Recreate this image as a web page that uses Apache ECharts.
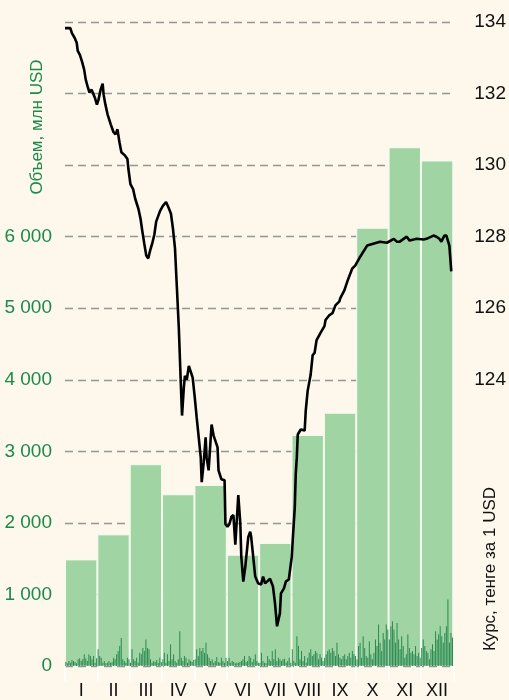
<!DOCTYPE html>
<html>
<head>
<meta charset="utf-8">
<script src="https://cdn.jsdelivr.net/npm/echarts@6/dist/echarts.min.js"></script>
<style>
    html, body { margin: 0; padding: 0; background: #fdf8eb; }
    #chart { width: 509px; height: 700px; }
</style>
</head>
<body>
<div id="chart"></div>
<script>
// месяцы
const months = ['I', 'II', 'III', 'IV', 'V', 'VI', 'VII', 'VIII', 'IX', 'X', 'XI', 'XII'];

// объем торгов за месяц, млн USD
const monthVolume = [1490, 1840, 2820, 2400, 2530, 1555, 1720, 3230, 3540, 6125, 7250, 7065];

// дневной объем торгов, млн USD (по 21 торговому дню в месяце)
const dailyVolume = [
    55, 40, 70, 45, 85, 70, 55, 40, 95, 110, 70, 95, 165, 110, 70, 165, 140, 95, 140, 45, 110,
    235, 140, 115, 45, 70, 40, 45, 70, 45, 55, 115, 95, 165, 210, 280, 390, 95, 70, 45, 115, 95,
    45, 235, 95, 70, 115, 45, 185, 165, 250, 210, 370, 250, 235, 95, 45, 70, 55, 85, 45, 115, 55,
    95, 185, 45, 165, 70, 305, 95, 165, 70, 45, 95, 485, 115, 70, 140, 115, 45, 95, 70, 55, 85,
    95, 235, 140, 250, 210, 250, 185, 325, 165, 115, 70, 95, 45, 70, 125, 55, 45, 115, 70, 45, 115,
    70, 115, 45, 70, 55, 40, 45, 45, 55, 70, 95, 140, 55, 70, 140, 115, 55, 95, 165, 70, 45,
    45, 185, 70, 45, 40, 140, 95, 70, 210, 95, 235, 70, 115, 95, 70, 95, 100, 45, 70, 115, 45,
    235, 70, 45, 415, 280, 95, 210, 70, 140, 45, 115, 185, 235, 140, 165, 210, 185, 95, 165, 115, 70,
    115, 165, 210, 235, 185, 250, 210, 140, 325, 165, 115, 95, 140, 165, 95, 140, 185, 115, 210, 165, 140,
    95, 280, 325, 115, 415, 250, 140, 115, 345, 165, 95, 185, 370, 280, 580, 325, 210, 460, 370, 580, 510,
    370, 555, 625, 510, 325, 600, 370, 235, 415, 280, 115, 165, 440, 250, 185, 210, 165, 280, 140, 185, 115,
    250, 370, 280, 210, 185, 95, 235, 305, 210, 485, 370, 445, 555, 415, 325, 460, 555, 930, 325, 460, 400,
];

// курс, тенге за 1 USD: [день года, значение]
const rate = [
    [0, 133.83], [5, 133.83], [6.5, 133.69], [9, 133.56], [11, 133.42], [12, 133.19], [14, 133.08],
    [16, 132.89], [18, 132.67], [19.5, 132.39], [21.5, 132.17], [23, 132.03], [25, 132.11], [28, 131.89],
    [30, 131.69], [31.5, 131.83], [33.5, 132.11], [35.4, 132.28], [36.3, 131.97], [38, 131.69], [40, 131.42],
    [43, 131.14], [45.6, 130.92], [47.5, 130.86], [49.3, 131.0], [51.2, 130.64], [53, 130.36], [56, 130.28],
    [58.7, 130.17], [59.6, 129.89], [61.5, 129.47], [64, 129.33], [66, 129.06], [69, 128.78], [71, 128.5],
    [72.6, 128.17], [74.5, 127.81], [76.4, 127.47], [78.2, 127.39], [80, 127.61], [82, 127.81], [84, 128.06],
    [85.7, 128.42], [87.5, 128.44], [89.4, 128.72], [92, 128.86], [95, 128.97], [97.8, 128.78], [99.6, 128.64],
    [101.5, 128.22], [103.4, 127.67], [104.3, 127.11], [105.2, 126.56], [107, 125.44], [108, 124.61],
    [109, 123.78], [110, 123.0], [111.7, 123.78], [112.7, 124.11], [114.5, 124.0], [116.4, 124.39],
    [118.2, 124.39], [120, 124.06], [122, 123.5], [123.8, 122.94], [125.7, 122.39], [127.6, 121.83],
    [128.5, 121.14], [130.4, 121.69], [132.2, 122.39], [133.1, 121.83], [135, 121.47], [137.8, 122.75],
    [139.7, 122.44], [141.5, 122.39], [143.4, 122.11], [144.3, 121.47], [147, 121.22], [150, 121.19],
    [150.8, 119.97], [152.7, 119.89], [154.6, 119.97], [156.4, 120.17], [158.3, 120.22], [160.1, 119.39],
    [161.1, 119.42], [162.9, 120.78], [164.8, 119.97], [165.7, 119.06], [167.6, 118.36], [169.5, 118.78],
    [172.3, 119.61], [174.1, 119.75], [175, 119.61], [176.9, 119.06], [178.8, 118.5], [181.6, 118.31],
    [184.4, 118.28], [186.2, 118.5], [188.1, 118.31], [189, 118.28], [192.7, 118.44], [195.5, 118.22],
    [197.4, 117.75], [199.3, 117.11], [202, 117.47], [203, 118.03], [205.8, 118.17], [207.6, 118.36],
    [210.4, 118.42], [212.3, 118.86], [213.2, 119.06], [214.1, 119.53], [216, 120.44], [216.9, 121.36],
    [217.9, 121.83], [218.8, 122.47], [221.6, 122.61], [225.3, 122.58], [226.3, 123.14], [228.1, 123.69],
    [230.9, 124.14], [232.8, 124.69], [234.6, 124.75], [236.5, 125.11], [240.2, 125.31], [243.9, 125.5],
    [244.9, 125.67], [248.6, 125.81], [251.4, 125.86], [254.2, 126.08], [257.9, 126.19], [258.8, 126.28],
    [262.6, 126.5], [265.4, 126.75], [270, 127.11], [272.8, 127.19], [277.5, 127.44], [284, 127.75],
    [290.5, 127.81], [296.1, 127.86], [302.6, 127.83], [309.1, 127.94], [311.9, 127.86], [314.7, 127.86],
    [321.2, 128.0], [324, 127.89], [330.5, 127.94], [337.1, 127.92], [339.8, 127.94], [346.4, 128.03],
    [349.2, 128.0], [351.9, 127.94], [353.8, 127.86], [356.6, 128.03], [358.5, 128.03], [361.3, 127.75],
    [363.1, 127.03],
];

const font = '"Liberation Sans", Arial, sans-serif';
const green = '#1b8a4c';

function fmtThousands(v) {
    return String(v).replace(/\B(?=(\d{3})+(?!\d))/g, ' ');
}

const instance = echarts.init(document.querySelector('#chart'));
instance.setOption({
    backgroundColor: '#fdf8eb',
    animation: false,
    grid: {
        left: 65,
        right: 52,
        top: 22,
        bottom: 31,
    },
    xAxis: [
        // месяцы
        {
            type: 'category',
            data: months,
            boundaryGap: true,
            axisLine: { show: false },
            axisTick: {
                show: true,
                length: 15,
                lineStyle: { color: '#ffffff', width: 1.5 },
            },
            axisLabel: {
                interval: 0,
                color: '#111',
                fontSize: 18,
                fontFamily: font,
                margin: 16,
            },
        },
        // торговые дни
        {
            type: 'category',
            data: dailyVolume.map((d, i) => i),
            boundaryGap: true,
            show: false,
        },
        // день года для курса
        {
            type: 'value',
            min: 0,
            max: 365,
            show: false,
        },
    ],
    yAxis: [
        {
            type: 'value',
            min: 0,
            max: 9000,
            interval: 1000,
            position: 'left',
            axisLine: { show: false },
            axisTick: { show: false },
            axisLabel: {
                color: green,
                fontSize: 19,
                fontFamily: font,
                margin: 13,
                formatter: v => (v <= 6000 ? fmtThousands(v) : ''),
            },
            splitLine: {
                show: true,
                lineStyle: {
                    color: '#959595',
                    width: 1.3,
                    type: [8, 5],
                },
            },
        },
        {
            type: 'value',
            min: 116,
            max: 134,
            interval: 2,
            position: 'right',
            axisLine: { show: false },
            axisTick: { show: false },
            splitLine: { show: false },
            axisLabel: {
                color: '#111',
                fontSize: 19,
                fontFamily: font,
                margin: 21,
                formatter: v => (v >= 124 ? String(v) : ''),
            },
        },
    ],
    graphic: [
        {
            type: 'text',
            x: 37,
            y: 127,
            rotation: Math.PI / 2,
            style: {
                text: 'Объем, млн USD',
                fill: green,
                font: `17px ${ font }`,
                align: 'center',
                verticalAlign: 'middle',
            },
        },
        {
            type: 'text',
            x: 490,
            y: 569,
            rotation: Math.PI / 2,
            style: {
                text: 'Курс, тенге за 1 USD',
                fill: '#111',
                font: `17px ${ font }`,
                align: 'center',
                verticalAlign: 'middle',
            },
        },
    ],
    series: [
        {
            name: 'Объем за месяц',
            type: 'bar',
            xAxisIndex: 0,
            yAxisIndex: 0,
            data: monthVolume,
            barCategoryGap: '0%',
            itemStyle: {
                color: '#a0d4a3',
                borderColor: '#f6fbf2',
                borderWidth: 1,
            },
            z: 2,
        },
        {
            name: 'Объем за день',
            type: 'bar',
            xAxisIndex: 1,
            yAxisIndex: 0,
            data: dailyVolume,
            barWidth: 1,
            itemStyle: {
                color: '#2a8a50',
            },
            z: 3,
        },
        {
            name: 'Курс',
            type: 'line',
            xAxisIndex: 2,
            yAxisIndex: 1,
            data: rate,
            showSymbol: false,
            lineStyle: {
                color: '#000',
                width: 2.6,
            },
            z: 4,
        },
    ],
});
</script>
</body>
</html>
